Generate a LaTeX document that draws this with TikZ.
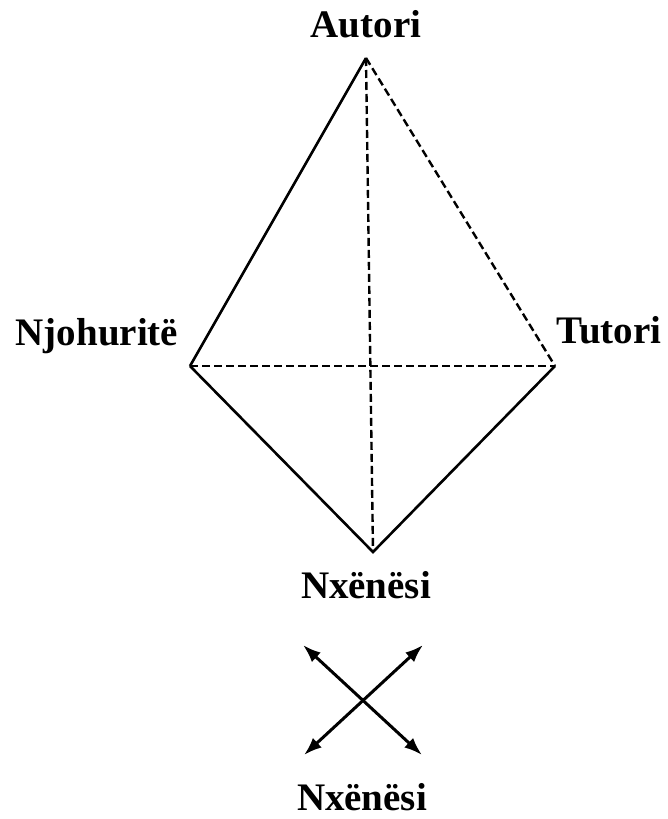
\documentclass[tikz,border=0pt]{standalone}
\usepackage{fontspec}
\setmainfont{Liberation Serif}
\usetikzlibrary{arrows.meta}

\tikzset{
  lbl/.style={font=\fontsize{39}{39}\selectfont\bfseries, anchor=base, inner sep=0pt},
  edge/.style={line width=2.6pt, line join=miter},
  dashedge/.style={line width=2.4pt, dash pattern=on 8pt off 4pt},
  twoway/.style={line width=3pt, {Latex[length=18pt,width=13pt]}-{Latex[length=18pt,width=13pt]}}
}

\begin{document}
\begin{tikzpicture}[x=1pt,y=-1pt]
\useasboundingbox (0,0) rectangle (668,819);

\coordinate (autV) at (366,58);
\coordinate (njoV) at (190,366);
\coordinate (tutV) at (555,366);
\coordinate (nxeV) at (373,552);

\node [lbl] (autori) at (366,37) {Autori};
\node [lbl] (njohurite) at (97,345) {Njohuritë};
\node [lbl] (tutori) at (609,343) {Tutori};
\node [lbl] (nxenesiA) at (366,598) {Nxënësi};
\node [lbl] (nxenesiB) at (362,810) {Nxënësi};

\draw [edge] (njoV) -- (autV);
\draw [edge] (njoV) -- (nxeV) -- (tutV);
\draw [dashedge] (autV) -- (tutV);
\draw [dashedge] (autV) -- (nxeV);
\draw [dashedge] (njoV) -- (tutV);

\coordinate (arUL) at (303,645);
\coordinate (arUR) at (423,645);
\coordinate (arLL) at (304,755);
\coordinate (arLR) at (422,755);
\draw [twoway] (arUL) -- (arLR);
\draw [twoway] (arUR) -- (arLL);

\end{tikzpicture}
\end{document}
